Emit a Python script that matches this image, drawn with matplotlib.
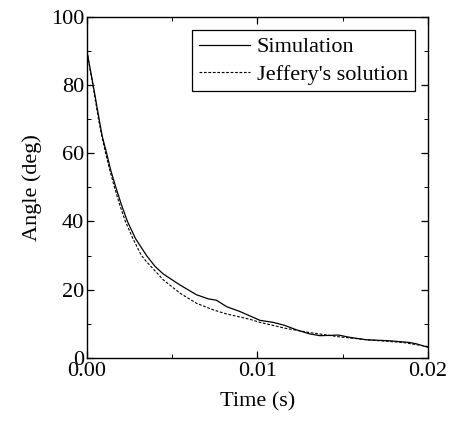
import matplotlib
matplotlib.use('Agg')
import matplotlib.pyplot as plt
from matplotlib.ticker import MultipleLocator

plt.rcParams['font.family'] = ['Liberation Serif', 'DejaVu Serif']

# values
sim_t = [0, 0.00037, 0.00072, 0.0009, 0.00116, 0.0014, 0.0017, 0.00202, 0.00238,
         0.00285, 0.0035, 0.0040, 0.00448, 0.00545, 0.00643, 0.00712, 0.0076,
         0.0082, 0.00897, 0.00956, 0.01015, 0.01093, 0.01161, 0.0123, 0.01308,
         0.01367, 0.0143, 0.01474, 0.01543, 0.0164, 0.01777, 0.01894, 0.01933, 0.02]
sim_angle = [90, 80, 70, 65, 60, 55, 50, 45, 40,
             35, 30, 26.8, 24.6, 21.4, 18.5, 17.3, 16.9,
             15.0, 13.6, 12.3, 11.0, 10.4, 9.5, 8.2, 7.0,
             6.5, 6.6, 6.7, 6.0, 5.3, 5.0, 4.5, 4.1, 3.1]

jef_t = [0, 0.00037, 0.0007, 0.00088, 0.0011, 0.00135, 0.00162, 0.00192, 0.00226,
         0.0027, 0.0032, 0.0035, 0.00448, 0.00545, 0.00643, 0.0074, 0.0081,
         0.00956, 0.01015, 0.01161, 0.01308, 0.01474, 0.0164, 0.01856, 0.02]
jef_angle = [90, 79.5, 69.5, 65, 60, 55, 50, 45, 40,
             35, 30, 28.2, 22.9, 19.0, 16.0, 14.1, 13.0,
             11.3, 10.4, 8.7, 7.4, 6.2, 5.3, 4.5, 3.3]

fig = plt.figure(figsize=(4.5, 4.21), dpi=100)
ax = fig.add_axes([0.193, 0.150, 0.758, 0.810])

ax.plot(sim_t, sim_angle, color='black', lw=0.9, label='Simulation')
ax.plot(jef_t, jef_angle, color='black', lw=0.8, ls=(0, (2.5, 1.5)),
        label="Jeffery's solution")

ax.set_xlim(0, 0.02)
ax.set_ylim(0, 100)
ax.xaxis.set_major_locator(MultipleLocator(0.01))
ax.xaxis.set_minor_locator(MultipleLocator(0.005))
ax.yaxis.set_major_locator(MultipleLocator(20))
ax.yaxis.set_minor_locator(MultipleLocator(10))
ax.xaxis.set_major_formatter(plt.FuncFormatter(lambda v, p: f'{v:.2f}'))
ax.tick_params(which='both', direction='in', top=True, right=True, labelsize=16)
ax.tick_params(which='major', length=5, width=0.9)
ax.tick_params(which='minor', length=3, width=0.7)
ax.tick_params(axis='x', pad=3)
ax.tick_params(axis='y', pad=2)
for s in ax.spines.values():
    s.set_linewidth(1.0)

ax.set_xlabel('Time (s)', fontsize=16, labelpad=8)
ax.set_ylabel('Angle (deg)', fontsize=16, labelpad=6)

leg = ax.legend(loc='upper right', fontsize=16, frameon=True, fancybox=False,
                edgecolor='black', framealpha=1, handlelength=2.3,
                handletextpad=0.3, borderpad=0.3, labelspacing=0.3,
                borderaxespad=0.6)
leg.get_frame().set_linewidth(0.9)

fig.savefig('out.png', dpi=100)
